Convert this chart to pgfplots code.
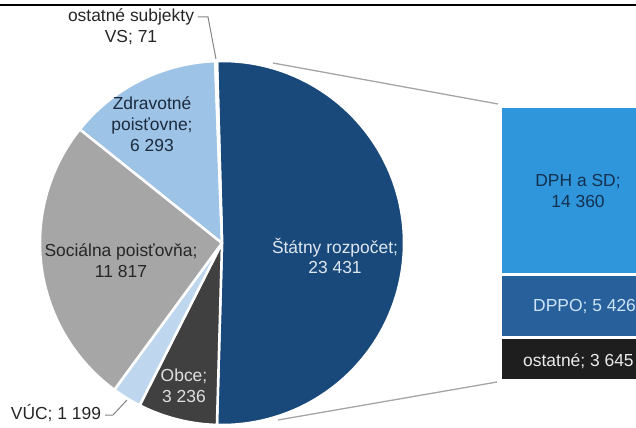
\documentclass[border=0pt]{standalone}
\usepackage{pgfplots}
\pgfplotsset{compat=1.18}
\usepackage{pgfplotstable}
\usepackage{fontspec}
\setmainfont{Liberation Sans}

\definecolor{cStat}{RGB}{25,73,123}
\definecolor{cObce}{RGB}{64,64,64}
\definecolor{cVuc}{RGB}{190,215,238}
\definecolor{cSoc}{RGB}{166,166,166}
\definecolor{cZdr}{RGB}{157,195,230}
\definecolor{cOVS}{RGB}{215,228,243}
\definecolor{cDph}{RGB}{47,150,220}
\definecolor{cDppo}{RGB}{40,96,156}
\definecolor{cOst}{RGB}{30,30,30}
\definecolor{cLine}{RGB}{165,165,165}

% pie: clockwise from the top, Štátny rozpočet first
\pgfplotstableread{
name value
statny 23431
obce 3236
vuc 1199
socialna 11817
zdravotne 6293
ostatneVS 71
}\piedata

% bar: split of Štátny rozpočet, top to bottom
\pgfplotstableread{
name value
dph 14360
dppo 5426
ostatne 3645
}\bardata

% slice angles (done in the preamble, so no stray spaces get typeset)
\pgfplotstablegetelem{0}{value}\of\piedata \edef\vA{\pgfplotsretval}
\pgfplotstablegetelem{1}{value}\of\piedata \edef\vB{\pgfplotsretval}
\pgfplotstablegetelem{2}{value}\of\piedata \edef\vC{\pgfplotsretval}
\pgfplotstablegetelem{3}{value}\of\piedata \edef\vD{\pgfplotsretval}
\pgfplotstablegetelem{4}{value}\of\piedata \edef\vE{\pgfplotsretval}
\pgfplotstablegetelem{5}{value}\of\piedata \edef\vF{\pgfplotsretval}
\edef\tot{\fpeval{\vA+\vB+\vC+\vD+\vE+\vF}}
% Štátny rozpočet is centred on the right-hand side
\edef\aA{\fpeval{180*\vA/\tot}}
\edef\aB{\fpeval{\aA-360*\vA/\tot}}
\edef\aC{\fpeval{\aB-360*\vB/\tot}}
\edef\aD{\fpeval{\aC-360*\vC/\tot}}
\edef\aE{\fpeval{\aD-360*\vD/\tot}}
\edef\aF{\fpeval{\aE-360*\vE/\tot}}
\edef\aG{\fpeval{\aF-360*\vF/\tot}}

\tikzset{lbl/.style={font=\fontsize{17.5}{21}\selectfont, align=center, inner sep=0pt}}

% one pie slice, centre (222,243) px, radius 182 px
\newcommand\slice[3]{%
  \fill[#1, draw=white, line width=2.5bp, line join=round]
    (axis cs:222,243) -- ++(#2:182bp) arc[start angle=#2, end angle=#3, radius=182bp] -- cycle;}

\begin{document}
\raisebox{0pt}[428bp][0pt]{%
\begin{tikzpicture}[trim left=0pt, trim right=636bp, baseline=0pt]
\clip (0,0) rectangle (636bp,428bp);

% ---------- bar of Štátny rozpočet ----------
\begin{axis}[
  at={(501bp,48bp)}, anchor=south west,
  scale only axis, width=156bp, height=273bp,
  xmin=0, xmax=1, ymin=0, ymax=23431, y dir=reverse,
  ybar stacked, bar width=156bp,
  hide axis, clip=false,
]
\addplot[fill=cDph, draw=white, line width=2.5bp] table[x expr=0.5, y=value, skip coords between index={1}{3}] {\bardata};
\addplot[fill=cDppo, draw=white, line width=2.5bp] table[x expr=0.5, y=value, skip coords between index={0}{1}, skip coords between index={2}{3}] {\bardata};
\addplot[fill=cOst, draw=white, line width=2.5bp] table[x expr=0.5, y=value, skip coords between index={0}{2}] {\bardata};
\end{axis}

% ---------- pie, in pixel coordinates ----------
\begin{axis}[
  scale only axis, width=636bp, height=428bp,
  xmin=0, xmax=636, ymin=0, ymax=428, y dir=reverse,
  hide axis, clip=false,
]
\slice{cStat}{\aA}{\aB}
\slice{cObce}{\aB}{\aC}
\slice{cVuc}{\aC}{\aD}
\slice{cSoc}{\aD}{\aE}
\slice{cZdr}{\aE}{\aF}
\slice{cOVS}{\aF}{\aG}

\draw[black, line width=1.8bp] (axis cs:0,5) -- (axis cs:636,5);

% connectors to the bar
\draw[cLine, line width=1.3bp] (axis cs:273,63) -- (axis cs:498,104);
\draw[cLine, line width=1.3bp] (axis cs:278,420) -- (axis cs:497,382);

% leader lines
\draw[cLine!80!black, line width=1bp] (axis cs:198,17) -- (axis cs:208,17) -- (axis cs:216,59);
\draw[cLine!80!black, line width=1bp] (axis cs:105,415) -- (axis cs:113,415) -- (axis cs:127,400);

\node[lbl, text=black!85] at (axis cs:131,27) {ostatné subjekty\\VS; 71};
\node[lbl, text={rgb,255:red,28;green,42;blue,61}] at (axis cs:152,124) {Zdravotné\\poisťovne;\\6 293};
\node[lbl, text=black!85] at (axis cs:121,261) {Sociálna poisťovňa;\\11 817};
\node[lbl, text=black!12] at (axis cs:184,386) {Obce;\\3 236};
\node[lbl, text={rgb,255:red,222;green,230;blue,240}] at (axis cs:335,256) {Štátny rozpočet;\\23 431};
\node[lbl, text=black!85] at (axis cs:56,413) {VÚC; 1 199};

% bar labels
\node[lbl, text={rgb,255:red,19;green,48;blue,79}] at (axis cs:578,191) {DPH a SD;\\14 360};
\node[lbl, text={rgb,255:red,205;green,228;blue,247}, anchor=west] at (axis cs:533,307) {DPPO; 5 426};
\node[lbl, text=black!8, anchor=west] at (axis cs:523,361) {ostatné; 3 645};
\end{axis}
\end{tikzpicture}}
\end{document}
